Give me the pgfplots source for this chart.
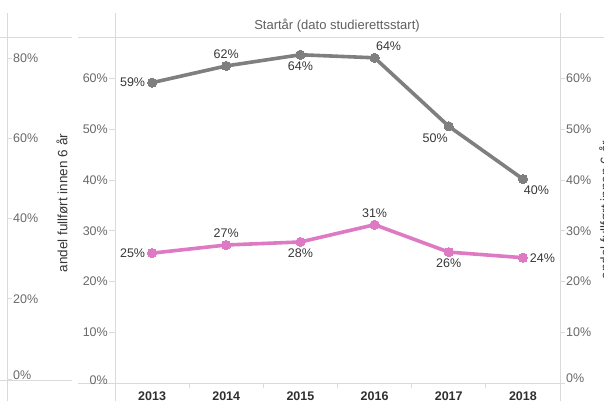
\documentclass[border=0pt]{standalone}
\usepackage{fontspec}
\setmainfont{Liberation Sans}
\usepackage{pgfplots}
\pgfplotsset{compat=1.18}
\usepackage{pgfplotstable}

\definecolor{tgray}{RGB}{127,127,127}
\definecolor{tpink}{RGB}{222,122,196}
\definecolor{rulec}{RGB}{218,218,218}
\definecolor{ticktext}{RGB}{105,105,105}
\definecolor{labtext}{RGB}{55,55,55}

% year index, value, label text, label placement code
% pos: 1 left, 2 above, 3 below, 4 right, 5 above-right, 6 below-left, 7 below-right
\pgfplotstableread{
x y lab pos
0 59.2 59 1
1 62.5 62 2
2 64.7 64 3
3 64.1 64 5
4 50.6 50 6
5 40.2 40 7
}\graytab

\pgfplotstableread{
x y lab pos
0 25.6 25 1
1 27.2 27 2
2 27.8 28 3
3 31.2 31 2
4 25.8 26 3
5 24.7 24 4
}\pinktab

\newcommand{\tfont}{\fontsize{12.5}{14}\selectfont}

% value labels of one placement group
\newcommand{\vlabels}[3]{%
  \addplot[draw=none, mark=none, forget plot,
    point meta=explicit symbolic,
    nodes near coords={\pgfplotspointmeta\%},
    every node near coord/.append style={font=\tfont, text=labtext,
      inner sep=1.5pt, outer sep=5.5pt, #2}]
    table[x=x, y=y, meta=lab, restrict expr to domain={\thisrow{pos}}{#1:#1}] {#3};
}

\begin{document}
\begin{tikzpicture}[x=1pt,y=1pt]

% panel rules
\draw[rulec, line width=0.8pt] (7,0) -- (7,388);
\draw[rulec, line width=0.8pt] (0,364) -- (72,364);
\draw[rulec, line width=0.8pt] (0,21) -- (72,21);
\draw[rulec, line width=0.8pt] (115,0) -- (115,388);
\draw[rulec, line width=0.8pt] (560,0) -- (560,388);
\draw[rulec, line width=0.8pt] (78,364) -- (604,364);
\draw[rulec, line width=0.8pt] (78,18) -- (560,18);

% left neighbour panel axis
\begin{axis}[
  at={(7pt,22pt)}, anchor=south east,
  scale only axis, width=20pt, height=342pt,
  xmin=0, xmax=1, ymin=0, ymax=85.3,
  axis line style={draw=none},
  xtick=\empty,
  ytick={0,20,40,60,80},
  yticklabels={\raisebox{8pt}{0\%},20\%,40\%,60\%,80\%},
  ytick pos=right, yticklabel pos=right,
  tick align=outside, major tick length=5pt,
  tick style={rulec, line width=0.8pt},
  yticklabel style={font=\tfont, text=ticktext, inner sep=1pt},
]
\end{axis}

% right neighbour panel axis
\begin{axis}[
  at={(115pt,18pt)}, anchor=south west,
  scale only axis, width=445pt, height=346pt,
  xmin=-0.5, xmax=5.5, ymin=0, ymax=68.2,
  axis line style={draw=none},
  xtick=\empty,
  ytick={0,10,...,60},
  yticklabels={\raisebox{10pt}{0\%},10\%,20\%,30\%,40\%,50\%,60\%},
  ytick pos=right, yticklabel pos=right,
  tick align=outside, major tick length=5pt,
  tick style={rulec, line width=0.8pt},
  yticklabel style={font=\tfont, text=ticktext, inner sep=1pt},
]
\end{axis}

% main panel
\begin{axis}[
  at={(115pt,18pt)}, anchor=south west,
  scale only axis, width=445pt, height=346pt,
  xmin=-0.5, xmax=5.5, ymin=0, ymax=68.2,
  axis line style={draw=none},
  clip=false,
  xtick={0,...,5},
  xticklabels={2013,2014,2015,2016,2017,2018},
  minor xtick={0.5,1.5,2.5,3.5,4.5},
  xtick pos=bottom, ytick pos=left,
  major x tick style={draw=none},
  minor x tick style={rulec, line width=0.8pt},
  minor tick length=5pt,
  tick align=outside,
  xticklabel style={font=\tfont\bfseries, text=labtext!85!black, inner sep=0pt, yshift=-3pt},
  ytick={0,10,...,60},
  yticklabels={\raisebox{6pt}{0\%},10\%,20\%,30\%,40\%,50\%,60\%},
  major tick length=6pt,
  y tick style={rulec, line width=0.8pt},
  yticklabel style={font=\tfont, text=ticktext, inner sep=1pt},
]
\addplot[tgray, line width=3.6pt, line join=round, mark=*, mark size=4.6pt,
  mark options={fill=tgray, draw=tgray, line width=0pt}]
  table[x=x, y=y] {\graytab};
\addplot[tpink, line width=3.6pt, line join=round, mark=*, mark size=4.6pt,
  mark options={fill=tpink, draw=tpink, line width=0pt}]
  table[x=x, y=y] {\pinktab};

\vlabels{1}{anchor=east}{\graytab}
\vlabels{2}{anchor=south}{\graytab}
\vlabels{3}{anchor=north}{\graytab}
\vlabels{5}{anchor=south, xshift=14pt}{\graytab}
\vlabels{6}{anchor=north east, xshift=6pt}{\graytab}
\vlabels{7}{anchor=north west, xshift=-6pt}{\graytab}

\vlabels{1}{anchor=east}{\pinktab}
\vlabels{2}{anchor=south}{\pinktab}
\vlabels{3}{anchor=north}{\pinktab}
\vlabels{4}{anchor=west}{\pinktab}
\end{axis}

% titles
\node[font=\fontsize{13}{15}\selectfont, text=ticktext!90!black] at (337,375) {Startår (dato studierettsstart)};
\node[rotate=90, font=\fontsize{13.5}{15}\selectfont, text=labtext] at (62,198) {andel fullført innen 6 år};
\node[rotate=90, anchor=base, font=\fontsize{13.5}{15}\selectfont, text=labtext] at (610,191) {andel fullført innen 6 år};

\pgfresetboundingbox
\useasboundingbox (0,0) rectangle (604,401);
\end{tikzpicture}
\end{document}
